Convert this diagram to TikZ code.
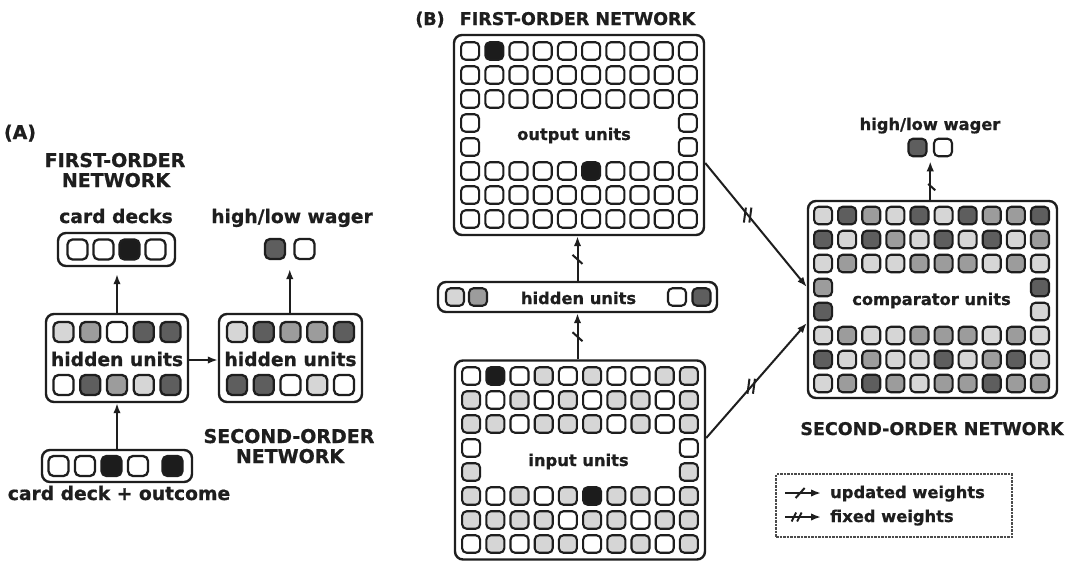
\documentclass[tikz,border=0pt]{standalone}
\usepackage{fontspec}
\setmainfont{DejaVu Sans}[BoldFont={DejaVu Sans Bold}, BoldFeatures={FakeBold=0.8}]
\usetikzlibrary{calc,arrows.meta,decorations.markings}

\definecolor{ink}{HTML}{1E1E1E}
\definecolor{cW}{HTML}{FFFFFF}
\definecolor{cL}{HTML}{D6D6D6}
\definecolor{cM}{HTML}{9C9C9C}
\definecolor{cD}{HTML}{5E5E5E}
\definecolor{cK}{HTML}{1C1C1C}

\tikzset{
  box/.style={draw=ink, line width=2.4pt, rounded corners=8pt, inner sep=0pt, fill=white},
  unitA/.style={draw=ink, line width=2.3pt, rounded corners=5pt, minimum width=20pt, minimum height=20pt, inner sep=0pt},
  unitB/.style={draw=ink, line width=2.1pt, rounded corners=4.5pt, minimum width=18pt, minimum height=17.5pt, inner sep=0pt},
  txtA/.style={text=ink, font=\fontsize{18.7}{20}\selectfont\bfseries, inner sep=0pt, anchor=base},
  capA/.style={text=ink, font=\fontsize{19}{20}\selectfont\bfseries, inner sep=0pt, anchor=base},
  txtB/.style={text=ink, font=\fontsize{16.3}{18}\selectfont\bfseries, inner sep=0pt, anchor=base},
  capB/.style={text=ink, font=\fontsize{17.5}{19}\selectfont\bfseries, inner sep=0pt, anchor=base},
  conn/.style={draw=ink, line width=2pt, -{Latex[length=10pt,width=7.5pt]}},
  upd/.style={postaction={decorate}, decoration={markings, mark=at position #1 with {\draw[ink, line width=2pt, -] (-4.5pt,-5pt) -- (4.5pt,5pt);}}},
  fixd/.style={postaction={decorate}, decoration={markings, mark=at position #1 with {\pgftransformresetnontranslations
      \draw[ink, line width=2pt, -] (-4pt,-7.5pt) -- (-2pt,7.5pt);
      \draw[ink, line width=2pt, -] (1.5pt,-7.5pt) -- (3.5pt,7.5pt);}}},
  fixl/.style={postaction={decorate}, decoration={markings, mark=at position #1 with {
      \draw[ink, line width=1.9pt, -] (-6pt,-4.5pt) -- (-1.5pt,4.5pt);
      \draw[ink, line width=1.9pt, -] (-0.5pt,-4.5pt) -- (4pt,4.5pt);}}},
  legendbox/.style={draw=ink!80, line width=1.6pt, dash pattern=on 2.5pt off 1pt, inner sep=0pt}
}

\begin{document}
\begin{tikzpicture}[x=1pt,y=-1pt]
\fill[white] (0,0) rectangle (1075,562);
\useasboundingbox (0,0) rectangle (1075,562);

% ================= PANEL A =================
\node[capA] (labA) at (20,139) {(A)};
\node[capA] (foA1) at (115,167) {FIRST-ORDER};
\node[capA] (foA2) at (116,187) {NETWORK};
\node[txtA] (cdl) at (116,223) {card decks};
\node[txtA] (wagAl) at (292,223) {high/low wager};

\node[box, minimum width=117pt, minimum height=33pt] (cards) at (116.5,249.5) {};
\foreach \ki/\col in {1/W,2/W,3/K,4/W}
  \node[unitA, fill=c\col] (cd-\ki) at ($(cards.center)+({(\ki-2.5)*26},0)$) {};

\node[unitA, fill=cD] (wA1) at (275,249) {};
\node[unitA, fill=cW] (wA2) at (304.5,249) {};
\coordinate (wAm) at ($(wA1.south)!0.5!(wA2.south)$);

\node[box, minimum width=142pt, minimum height=88pt] (hA1) at (117,358) {};
\node[box, minimum width=143pt, minimum height=88pt] (hA2) at (290.5,358) {};
\node[txtA] (hA1t) at (117,366) {hidden units};
\node[txtA] (hA2t) at (290.5,366) {hidden units};
\foreach \ki/\col in {1/L,2/M,3/W,4/D,5/D}
  \node[unitA, fill=c\col] (hA1a-\ki) at ($(hA1.center)+({(\ki-3)*26.75},-26)$) {};
\foreach \ki/\col in {1/W,2/D,3/M,4/L,5/D}
  \node[unitA, fill=c\col] (hA1b-\ki) at ($(hA1.center)+({(\ki-3)*26.75},27)$) {};
\foreach \ki/\col in {1/L,2/D,3/M,4/M,5/D}
  \node[unitA, fill=c\col] (hA2a-\ki) at ($(hA2.center)+({(\ki-3)*26.75},-26)$) {};
\foreach \ki/\col in {1/D,2/D,3/W,4/L,5/W}
  \node[unitA, fill=c\col] (hA2b-\ki) at ($(hA2.center)+({(\ki-3)*26.75},27)$) {};

\node[box, minimum width=150pt, minimum height=32pt] (inA) at (117,466) {};
\foreach \ki/\dx/\col in {1/-58.5/W,2/-32/W,3/-5.5/K,4/21/W,5/55.5/K}
  \node[unitA, fill=c\col] (inA-\ki) at ($(inA.center)+(\dx,0)$) {};
\node[txtA] (cdo) at (119,500) {card deck + outcome};

\node[capA] (soA1) at (289,443) {SECOND-ORDER};
\node[capA] (soA2) at (290,463) {NETWORK};

\draw[conn, shorten >=7pt] (hA1.north) -- (hA1.north |- cards.south);
\draw[conn, shorten >=9pt] (hA2.north -| wAm) -- (wAm);
\draw[conn] (inA.north -| hA1.south) -- (hA1.south);
\draw[conn] ([yshift=-2pt]hA1.east) -- ([yshift=-2pt]hA2.west);

% ================= PANEL B =================
\node[capB] (labB) at (430,25) {(B)};
\node[capB] (foB) at (577.5,25) {FIRST-ORDER NETWORK};

\node[box, minimum width=250pt, minimum height=200pt] (outbox) at (579,135) {};
\node[box, minimum width=250pt, minimum height=199pt] (inbox) at (580,460) {};
\node[box, minimum width=279pt, minimum height=30pt] (hB) at (577.5,297) {};
\node[box, minimum width=249pt, minimum height=197pt] (comp) at (932.5,299.5) {};

% output grid
\foreach \rowlist [count=\ri] in {{W,K,W,W,W,W,W,W,W,W},{W,W,W,W,W,W,W,W,W,W},{W,W,W,W,W,W,W,W,W,W},{W,N,N,N,N,N,N,N,N,W},{W,N,N,N,N,N,N,N,N,W},{W,W,W,W,W,K,W,W,W,W},{W,W,W,W,W,W,W,W,W,W},{W,W,W,W,W,W,W,W,W,W}}{
  \foreach \col [count=\ki] in \rowlist {
    \if\col N\else
      \node[unitB, fill=c\col] (out-\ri-\ki) at ($(outbox.center)+({(\ki-5.5)*24.2},{(\ri-4.5)*24})$) {};
    \fi
  }
}
% input grid
\foreach \rowlist [count=\ri] in {{W,K,W,L,W,L,W,W,L,L},{L,W,L,W,L,W,L,L,W,L},{L,L,W,L,L,L,W,L,W,L},{W,N,N,N,N,N,N,N,N,W},{L,N,N,N,N,N,N,N,N,L},{L,W,L,W,L,K,L,L,W,L},{L,L,L,L,W,L,L,W,L,L},{W,L,W,L,L,W,L,L,W,L}}{
  \foreach \col [count=\ki] in \rowlist {
    \if\col N\else
      \node[unitB, fill=c\col] (in-\ri-\ki) at ($(inbox.center)+({(\ki-5.5)*24.2},{(\ri-4.5)*24})$) {};
    \fi
  }
}
% comparator grid
\foreach \rowlist [count=\ri] in {{L,D,M,L,D,L,D,M,M,D},{D,L,D,M,L,D,L,D,L,M},{L,M,L,L,M,M,M,L,M,L},{M,N,N,N,N,N,N,N,N,D},{D,N,N,N,N,N,N,N,N,L},{L,M,L,L,M,M,M,L,M,L},{D,L,M,L,L,D,L,M,D,L},{L,M,D,M,L,M,M,D,M,M}}{
  \foreach \col [count=\ki] in \rowlist {
    \if\col N\else
      \node[unitB, fill=c\col] (cmp-\ri-\ki) at ($(comp.center)+({(\ki-5.5)*24.1-1},{(\ri-4.5)*24})$) {};
    \fi
  }
}

\node[txtB] (outt) at (574,140) {output units};
\node[txtB] (int) at (578.5,466) {input units};
\node[txtB] (hBt) at (578.5,304) {hidden units};
\node[txtB] (cmpt) at (931.5,305) {comparator units};
\node[capB] (soB) at (932,435) {SECOND-ORDER NETWORK};
\node[txtB] (wagBl) at (930,130) {high/low wager};

\foreach \ki/\dx/\col in {1/455/L,2/478/M,3/677/W,4/701.5/D}
  \node[unitB, fill=c\col] (hB-\ki) at (\dx,297) {};

\node[unitB, fill=cD] (wB1) at (917.5,147.5) {};
\node[unitB, fill=cW] (wB2) at (943,147.5) {};
\coordinate (wBm) at ($(wB1.south)!0.5!(wB2.south)$);

\draw[conn, upd=0.48] (hB.north) -- (hB.north |- outbox.south);
\draw[conn, upd=0.49] (hB.south |- inbox.north) -- (hB.south);
\draw[conn, upd=0.33, shorten >=4pt] (comp.north -| wBm) -- (wBm);
\draw[conn, fixd=0.42] ([yshift=-28pt]outbox.east) -- ([yshift=12.5pt]comp.west);
\draw[conn, fixd=0.45] ([yshift=22pt]inbox.east) -- ([yshift=-23.5pt]comp.west);

% legend
\node[legendbox, minimum width=236pt, minimum height=63pt] (legend) at (894,505.5) {};
\node[txtB, anchor=base west] (lt1) at (830,498) {updated weights};
\node[txtB, anchor=base west] (lt2) at (830,522) {fixed weights};
\coordinate (l1s) at (785,493);
\coordinate (l1e) at (821,493);
\coordinate (l2s) at (785,517);
\coordinate (l2e) at (821,517);
\draw[conn, upd=0.42] (l1s) -- (l1e);
\draw[conn, fixl=0.35] (l2s) -- (l2e);
\end{tikzpicture}
\end{document}
